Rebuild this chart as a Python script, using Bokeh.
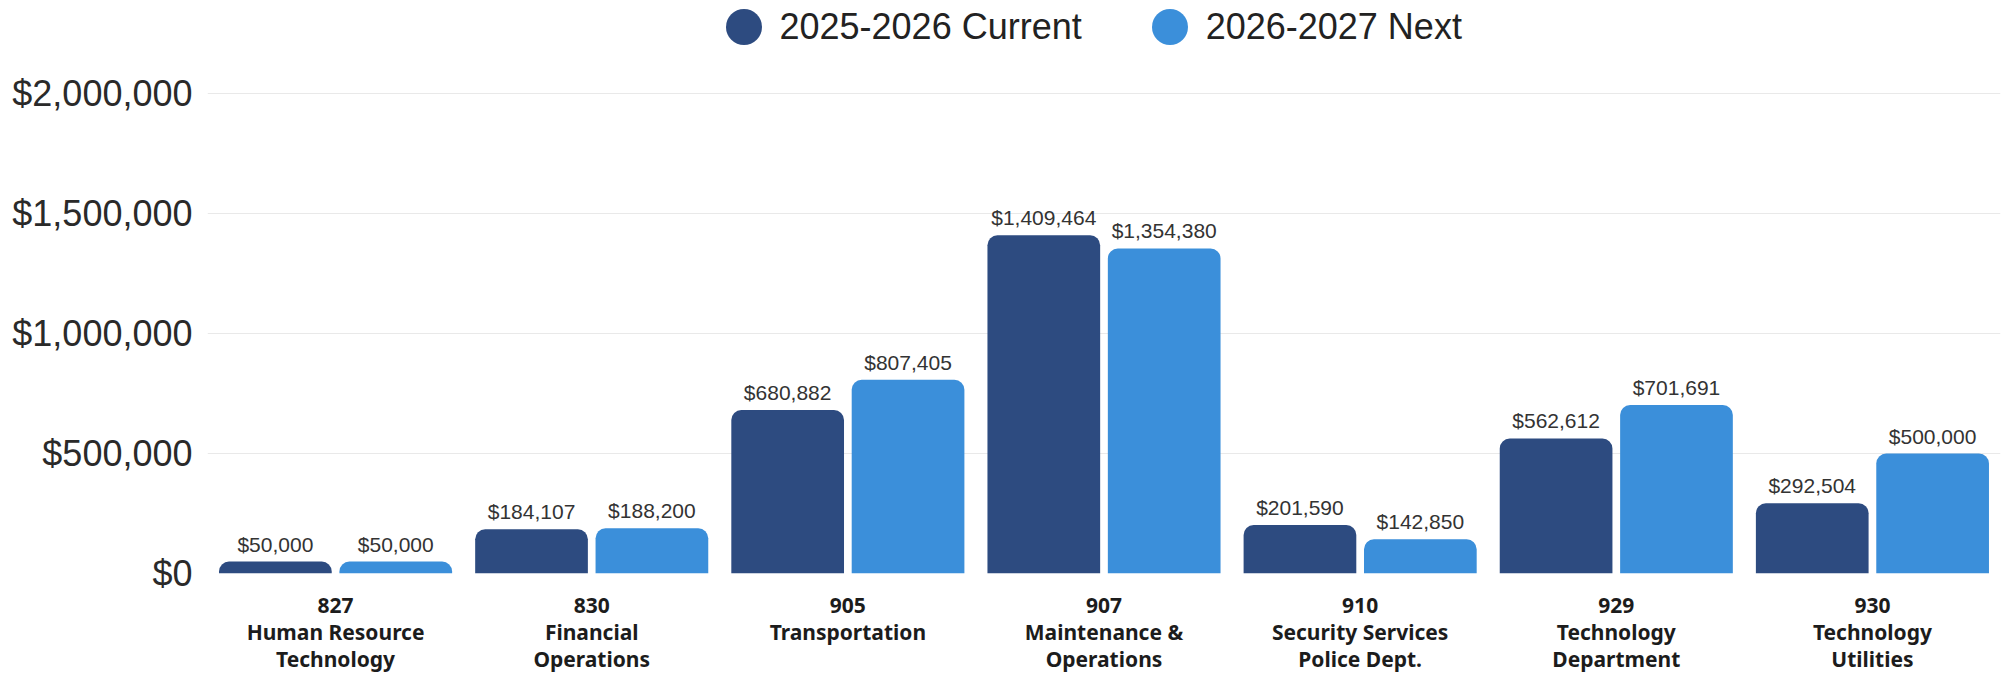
from bokeh.plotting import figure
from bokeh.models import (ColumnDataSource, FactorRange, FixedTicker, NumeralTickFormatter,
                          LabelSet, Legend, LegendItem, Range1d)
from bokeh.core.properties import value
from bokeh.transform import dodge
from bokeh.embed import file_html
from bokeh.resources import INLINE

# ---- data ----
codes = ["827", "830", "905", "907", "910", "929", "930"]
names = ["Human Resource\nTechnology", "Financial\nOperations", "Transportation",
         "Maintenance &\nOperations", "Security Services\nPolice Dept.",
         "Technology\nDepartment", "Technology\nUtilities"]
current = [50000, 184107, 680882, 1409464, 201590, 562612, 292504]
next_year = [50000, 188200, 807405, 1354380, 142850, 701691, 500000]
series_labels = ["2025-2026 Current", "2026-2027 Next"]
y_ticks = [0, 500000, 1000000, 1500000, 2000000]

DARK = "#2D4B80"
LIGHT = "#3B8FDA"

cats = [f"{c}\n{n}" for c, n in zip(codes, names)]
src = ColumnDataSource(dict(
    cat=cats, cur=current, nxt=next_year,
    cur_lbl=[f"${v:,}" for v in current],
    nxt_lbl=[f"${v:,}" for v in next_year],
))

W, H = 2004, 685
BORDER_L, BORDER_R, BORDER_T, BORDER_B = 207, 4, 0, 112
frame_bottom = H - BORDER_B          # px from figure top (573)
top_tick_px = 93                     # where the $2,000,000 gridline sits
y_end = frame_bottom / (frame_bottom - top_tick_px) * y_ticks[-1]

p = figure(width=W, height=H, output_backend="svg", toolbar_location=None,
           x_range=FactorRange(*cats, range_padding=0),
           y_range=Range1d(0, y_end),
           min_border_left=BORDER_L, min_border_right=BORDER_R,
           min_border_top=BORDER_T, min_border_bottom=BORDER_B)
p.outline_line_color = None
p.background_fill_color = "white"
p.border_fill_color = "white"

p.xgrid.grid_line_color = None
p.ygrid.grid_line_color = "#e9e9e9"
p.ygrid.ticker = FixedTicker(ticks=y_ticks)

p.yaxis.ticker = FixedTicker(ticks=y_ticks)
p.yaxis.formatter = NumeralTickFormatter(format="$0,0")
p.yaxis.axis_line_color = None
p.yaxis.major_tick_line_color = None
p.yaxis.minor_tick_line_color = None
p.yaxis.major_tick_out = 0
p.yaxis.major_tick_in = 0
p.yaxis.minor_tick_out = 0
p.yaxis.major_label_standoff = 15
p.yaxis.major_label_text_font = "Liberation Sans"
p.yaxis.major_label_text_font_size = "36px"
p.yaxis.major_label_text_color = "#2a2a2a"

p.xaxis.axis_line_color = None
p.xaxis.major_tick_line_color = None
p.xaxis.minor_tick_line_color = None
p.xaxis.major_tick_out = 0
p.xaxis.major_tick_in = 0
p.xaxis.major_label_standoff = 17
p.xaxis.major_label_text_font = "Noto Sans"
p.xaxis.major_label_text_font_style = "bold"
p.xaxis.major_label_text_font_size = "21px"
p.xaxis.major_label_text_line_height = 0.97
p.xaxis.major_label_text_color = "#1c1c1c"

OFF = 0.235
BW = 0.44
p.vbar(x=dodge("cat", -OFF, range=p.x_range), top="cur", width=BW, source=src,
       fill_color=DARK, line_color=None, border_radius=(10, 10, 0, 0))
p.vbar(x=dodge("cat", OFF, range=p.x_range), top="nxt", width=BW, source=src,
       fill_color=LIGHT, line_color=None, border_radius=(10, 10, 0, 0))

for col, lbl, off in (("cur", "cur_lbl", -OFF), ("nxt", "nxt_lbl", OFF)):
    p.add_layout(LabelSet(x=dodge("cat", off, range=p.x_range), y=col, text=lbl, source=src,
                          text_align="center", text_baseline="bottom", y_offset=6,
                          text_font=value("Liberation Sans"), text_font_size="21px",
                          text_color="#333333"))

# legend swatches: vanishingly small round glyphs (the legend sizes its own swatch)
GLYPH = 45
legend_top = 4
r1 = p.ellipse(x=[cats[0]], y=[0], width=0.01, height=0.01,
               width_units="screen", height_units="screen",
               fill_color=DARK, line_color=None)
r2 = p.ellipse(x=[cats[0]], y=[0], width=0.01, height=0.01,
               width_units="screen", height_units="screen",
               fill_color=LIGHT, line_color=None)
legend = Legend(items=[LegendItem(label=series_labels[0], renderers=[r1]),
                       LegendItem(label=series_labels[1], renderers=[r2])],
                orientation="horizontal",
                location=(720.5 - BORDER_L, frame_bottom - GLYPH - legend_top),
                glyph_width=GLYPH, glyph_height=GLYPH, label_standoff=14, spacing=65,
                padding=0, margin=0, border_line_color=None, background_fill_alpha=0,
                label_text_font="Liberation Sans", label_text_font_size="36px",
                label_text_color="#222222")
p.add_layout(legend)

open("out.html", "w").write(file_html(p, INLINE))
